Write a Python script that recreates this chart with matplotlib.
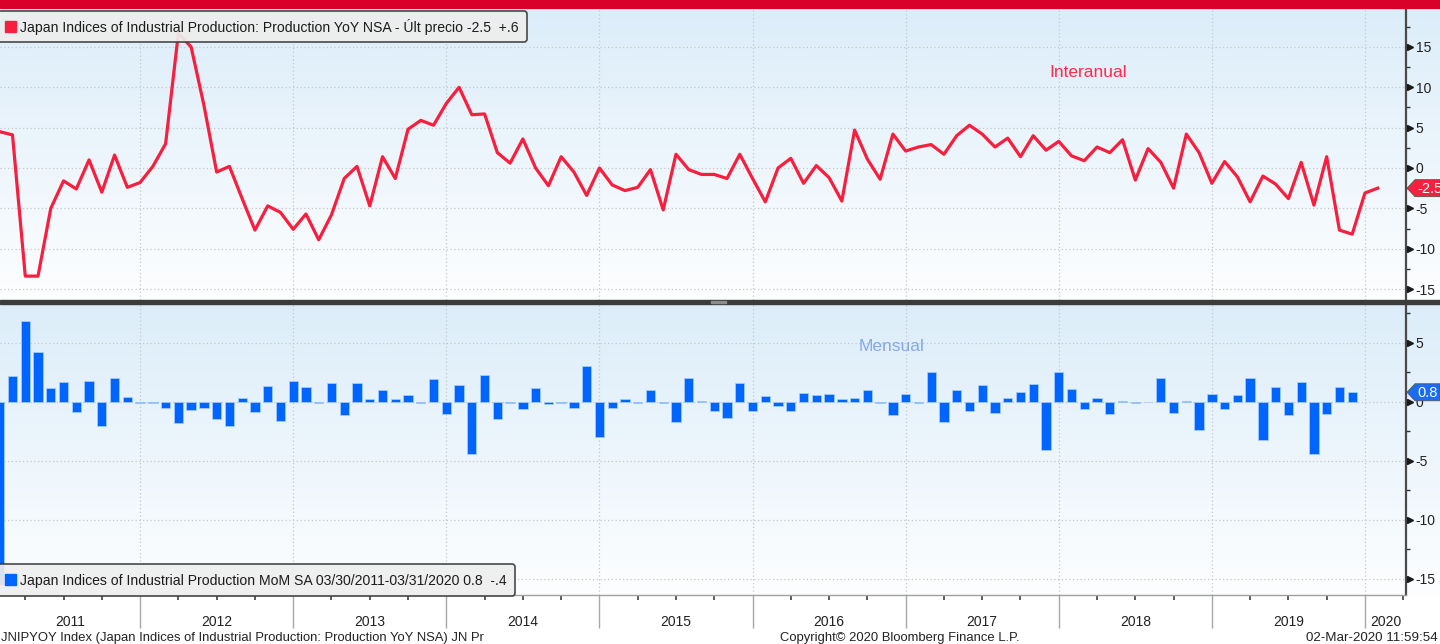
import numpy as np
import matplotlib
matplotlib.use("Agg")
import matplotlib.pyplot as plt
from matplotlib.patches import Rectangle, FancyBboxPatch, Polygon
from matplotlib.transforms import Affine2D, blended_transform_factory
from matplotlib.colors import LinearSegmentedColormap
from matplotlib.ticker import FixedLocator

plt.rcParams['font.family'] = ['Liberation Sans', 'DejaVu Sans']

# ---------------- data ----------------
start_year = 2011
yoy = [4.5, 4.1, -13.4, -13.4, -5.0, -1.6, -2.6, 1.0, -3.0, 1.6, -2.4, -1.8,   # 2011
       0.2, 3.0, 16.7, 15.0, 7.8, -0.5, 0.2, -3.8, -7.7, -4.7, -5.5, -7.6,     # 2012
       -5.7, -8.9, -5.8, -1.3, 0.2, -4.7, 1.4, -1.3, 4.8, 5.9, 5.3, 8.0,       # 2013
       10.0, 6.6, 6.7, 1.9, 0.6, 3.6, 0.0, -2.2, 1.4, -0.5, -3.4, 0.0,         # 2014
       -2.1, -2.8, -2.4, -0.2, -5.2, 1.7, -0.2, -0.8, -0.8, -1.3, 1.7, -1.3,   # 2015
       -4.2, 0.0, 1.2, -1.9, 0.3, -1.2, -4.1, 4.7, 1.1, -1.4, 4.2, 2.1,        # 2016
       2.6, 2.9, 1.7, 4.0, 5.3, 4.2, 2.6, 3.7, 1.4, 4.0, 2.2, 3.3,             # 2017
       1.5, 0.9, 2.6, 1.9, 3.5, -1.5, 2.4, 0.7, -2.5, 4.2, 1.9, -1.9,          # 2018
       0.8, -1.1, -4.2, -1.0, -2.0, -3.8, 0.7, -4.6, 1.4, -7.7, -8.2, -3.1,    # 2019
       -2.5]                                                                    # 2020

mom = [-15.5, 2.2, 6.8, 4.2, 1.2, 1.7, -0.85, 1.75, -2.1, 2.0, 0.4, -0.1,
       -0.1, -0.5, -1.8, -0.7, -0.5, -1.5, -2.1, 0.35, -0.9, 1.3, -1.6, 1.75,
       1.25, -0.1, 1.6, -1.1, 1.6, 0.2, 1.0, 0.2, 0.55, -0.1, 1.9, -1.0,
       1.4, -4.4, 2.25, -1.5, -0.15, -0.6, 1.15, -0.2, -0.1, -0.5, 3.0, -3.0,
       -0.5, 0.25, -0.1, 0.95, -0.1, -1.7, 2.0, 0.1, -0.75, -1.35, 1.6, -0.8,
       0.5, -0.4, -0.75, 0.75, 0.6, 0.65, 0.25, 0.35, 1.0, -0.1, -1.1, 0.65,
       -0.1, 2.5, -1.7, 1.0, -0.75, 1.4, -0.95, 0.35, 0.85, 1.5, -4.1, 2.5,
       1.05, -0.6, 0.35, -1.0, 0.1, -0.1, -0.05, 2.0, -0.95, 0.1, -2.4, 0.65,
       -0.6, 0.55, 2.0, -3.25, 1.25, -1.15, 1.65, -4.4, -1.0, 1.25, 0.8]

year_labels = ['2011', '2012', '2013', '2014', '2015', '2016', '2017', '2018', '2019', '2020']
yoy_ticks = [-15, -10, -5, 0, 5, 10, 15]
mom_ticks = [-15, -10, -5, 0, 5]
yoy_legend = "Japan Indices of Industrial Production: Production YoY NSA - Últ precio -2.5  +.6"
mom_legend = "Japan Indices of Industrial Production MoM SA 03/30/2011-03/31/2020 0.8  -.4"
yoy_note = "Interanual"
mom_note = "Mensual"
footer_left = "JNIPYOY Index (Japan Indices of Industrial Production: Production YoY NSA) JN Pr"
footer_mid = "Copyright© 2020 Bloomberg Finance L.P."
footer_right = "02-Mar-2020 11:59:54"

x_yoy = start_year + (np.arange(len(yoy)) + 1) / 12.0
x_mom = start_year + (np.arange(len(mom)) + 1) / 12.0

# ---------------- layout ----------------
W, H = 1440, 644
fig = plt.figure(figsize=(W / 100, H / 100), dpi=100)
fig.patch.set_facecolor('white')
pxT = Affine2D().scale(1.0 / W, -1.0 / H).translate(0, 1) + fig.transFigure
renderer = fig.canvas.get_renderer()


def rect(x0, y0, x1, y1):
    return [x0 / W, 1 - y1 / H, (x1 - x0) / W, (y1 - y0) / H]


TOP = (10, 300)
BOT = (304, 595)
XR = 1406
RED = '#F81E3E'
BLUE = '#0064FF'

cmap = LinearSegmentedColormap.from_list('bg', ['#FDFEFF', '#DCEDF9'])
for (y0, y1) in (TOP, BOT):
    bg = fig.add_axes(rect(0, y0, W, y1), zorder=0)
    bg.imshow(np.linspace(0, 1, 256).reshape(-1, 1), cmap=cmap, aspect='auto',
              extent=[0, 1, 0, 1], origin='lower', interpolation='bicubic')
    bg.set_axis_off()

ax1 = fig.add_axes(rect(0, TOP[0], XR, TOP[1]), zorder=2)
ax2 = fig.add_axes(rect(0, BOT[0], XR, BOT[1]), zorder=2)

xlim = (2011.085, 2020.268)
ax1.set_xlim(*xlim)
ax2.set_xlim(*xlim)
ax1.set_ylim(-16.36, 19.58)
ax2.set_ylim(-16.38, 8.28)

year_bounds = [int(y) for y in year_labels[1:]]
quarters = [int(y) + q for y in year_labels for q in (0.25, 0.5, 0.75)]

for ax, ticks in ((ax1, yoy_ticks), (ax2, mom_ticks)):
    ax.patch.set_visible(False)
    ax.set_axisbelow(True)
    ax.yaxis.tick_right()
    ax.yaxis.set_major_locator(FixedLocator(ticks))
    minors = [t + 2.5 for t in ticks] + [ticks[0] - 2.5]
    ax.yaxis.set_minor_locator(FixedLocator(minors))
    ax.xaxis.set_major_locator(FixedLocator(year_bounds))
    ax.xaxis.set_minor_locator(FixedLocator(quarters))
    ax.grid(True, which='major', linestyle=(0, (1, 2)), color='#C4C8CC', lw=0.9)
    ax.tick_params(axis='y', which='major', length=0, pad=7, labelsize=10,
                   labelcolor='#222222', labelright=True, labelleft=False)
    ax.tick_params(axis='y', which='minor', length=3, width=1, color='#333333')
    for s in ('top', 'left', 'bottom'):
        ax.spines[s].set_visible(False)
    ax.spines['right'].set_color('#4A4A4A')
    ax.spines['right'].set_linewidth(1.6)
    tri = blended_transform_factory(ax.transAxes, ax.transData)
    ax.plot([1.0 + 3.5 / XR] * len(ticks), ticks, ls='none', marker='>', ms=4.5,
            color='#1A1A1A', transform=tri, clip_on=False, zorder=5)
    ax.set_yticklabels([str(t) for t in ticks])

ax1.tick_params(axis='x', which='both', length=0, labelbottom=False)
ax2.spines['bottom'].set_visible(True)
ax2.spines['bottom'].set_color('#A0A0A0')
ax2.spines['bottom'].set_linewidth(1)
ax2.tick_params(axis='x', which='major', length=24, width=1, color='#A8A8A8', labelbottom=False)
ax2.tick_params(axis='x', which='minor', length=3.5, width=1.2, color='#404040')

# ---------------- data marks ----------------
ax1.plot(x_yoy, yoy, color=RED, lw=2.3, zorder=3, solid_joinstyle='round')
ax2.bar(x_mom, mom, width=0.73 / 12, color=BLUE, edgecolor='#A9D0FF', linewidth=0.5, zorder=3)

# notes
ax1.text(2018.19, 11.8, yoy_note, color='#FF2A48', fontsize=12.5, ha='center', va='center')
ax2.text(2016.91, 4.7, mom_note, color='#84A9EE', fontsize=12.5, ha='center', va='center')

# year labels
for lab in year_labels:
    y = int(lab)
    lo, hi = max(y, xlim[0]), min(y + 1, xlim[1])
    ax2.annotate(lab, xy=((lo + hi) / 2, 0), xycoords=('data', 'axes fraction'),
                 xytext=(0, -27), textcoords='offset pixels', ha='center', va='center',
                 fontsize=10, color='#222222')

# ---------------- decorations ----------------
fig.add_artist(Rectangle((0, 0), W, 8, transform=pxT, color='#D9002A', zorder=6))
fig.add_artist(Rectangle((0, 300), W, 4, transform=pxT, color='#3C3C3C', zorder=6))
fig.add_artist(Rectangle((711, 301), 15, 2, transform=pxT, color='#8C8C8C', zorder=7))


def fit(txt, width):
    bb = txt.get_window_extent(renderer)
    txt.set_fontsize(txt.get_fontsize() * width / bb.width)


def legend_box(x0, y0, x1, y1, color, label, width):
    fig.add_artist(FancyBboxPatch((x0, y0), x1 - x0, y1 - y0,
                                  boxstyle='round,pad=0,rounding_size=3', transform=pxT,
                                  facecolor='#EEEEEE', edgecolor='#3A3A3A', lw=1.2,
                                  alpha=0.92, zorder=8))
    yc = (y0 + y1) / 2
    fig.add_artist(Rectangle((4.5, yc - 5.5), 11, 11, transform=pxT, color=color, zorder=9))
    t = fig.text(20 / W, 1 - (yc + 0.5) / H, label, ha='left', va='center', fontsize=9,
                 color='#1C1C1C', zorder=10)
    fit(t, width)


legend_box(-3, 11, 527, 42, RED, yoy_legend, 496)
legend_box(-3, 564, 515, 596, BLUE, mom_legend, 487)


def value_tag(ax, value, color):
    yd = ax.transData.transform((xlim[0], value))
    ypx = pxT.inverted().transform(yd)[1]
    pts = [(XR + 1, ypx), (XR + 9, ypx - 8.5), (W, ypx - 8.5), (W, ypx + 8.5), (XR + 9, ypx + 8.5)]
    fig.add_artist(Polygon(pts, closed=True, transform=pxT, facecolor=color,
                           edgecolor='#555555', lw=0.6, zorder=8))
    fig.text((XR + 11) / W, 1 - (ypx + 0.5) / H, f"{value:.1f}", color='white', fontsize=10.5,
             ha='left', va='center', zorder=9)


value_tag(ax1, yoy[-1], '#F5213E')
value_tag(ax2, mom[-1], '#1A6CF5')

# footer
t = fig.text(1 / W, 1 - 638 / H, footer_left, ha='left', va='center', fontsize=9, color='#222222')
fit(t, 486)
t = fig.text(780 / W, 1 - 638 / H, footer_mid, ha='left', va='center', fontsize=9, color='#222222')
fit(t, 240)
t = fig.text(1438 / W, 1 - 638 / H, footer_right, ha='right', va='center', fontsize=9, color='#222222')
fit(t, 132)

fig.savefig('out.png', dpi=100)
